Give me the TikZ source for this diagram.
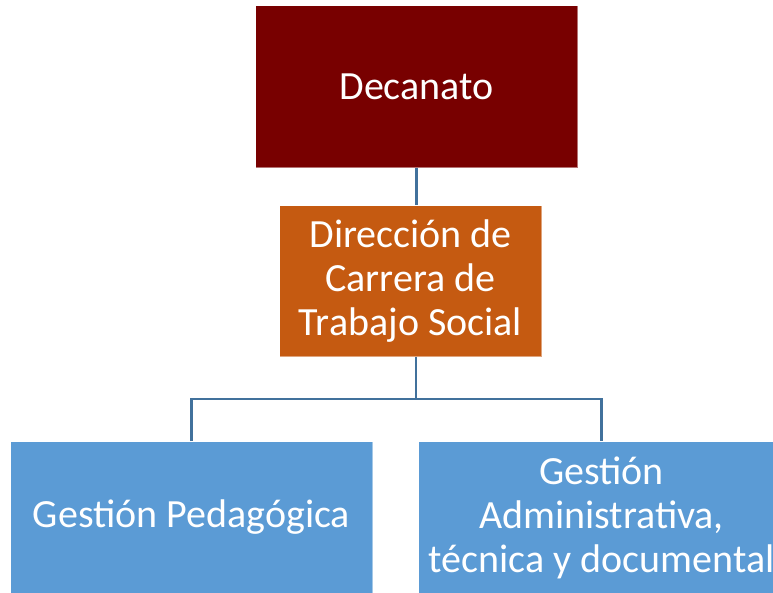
\documentclass[tikz,border=0pt]{standalone}
\usepackage{fontspec}
\setmainfont{Carlito}
\definecolor{decred}{HTML}{780000}
\definecolor{dirorange}{HTML}{C55A11}
\definecolor{gesblue}{HTML}{5B9BD5}
\definecolor{linkblue}{HTML}{41719C}
\begin{document}
\begin{tikzpicture}[x=1pt,y=-1pt,
  box/.style={draw=white, draw opacity=0.45, line width=1pt, text=white, align=center, inner sep=0pt,
    font=\fontsize{40}{44}\selectfont, anchor=north west},
  link/.style={draw=linkblue, line width=2.5pt}]
\clip (0,0) rectangle (773,592);
\fill[white] (0,0) rectangle (773,592);
\node[box, fill=decred, minimum width=322pt, minimum height=162pt] (dec) at (255,5) {Decanato};
\node[box, fill=dirorange, minimum width=262pt, minimum height=151pt] (dir) at (279,205) {Dirección de\\Carrera de\\Trabajo Social};
\node[box, fill=gesblue, minimum width=362pt, minimum height=152pt] (gp) at (10,441) {Gestión Pedagógica};
\node[box, fill=gesblue, minimum width=366pt, minimum height=152pt] (ga) at (418,441) {Gestión\\Administrativa,\\técnica y documental};
\coordinate (j) at (416,399);
\draw[link] (dec.south) -- (dec.south |- dir.north);
\draw[link] (j |- dir.south) -- (j);
\draw[link] (gp.north) |- (j) -| (ga.north);
\end{tikzpicture}
\end{document}
